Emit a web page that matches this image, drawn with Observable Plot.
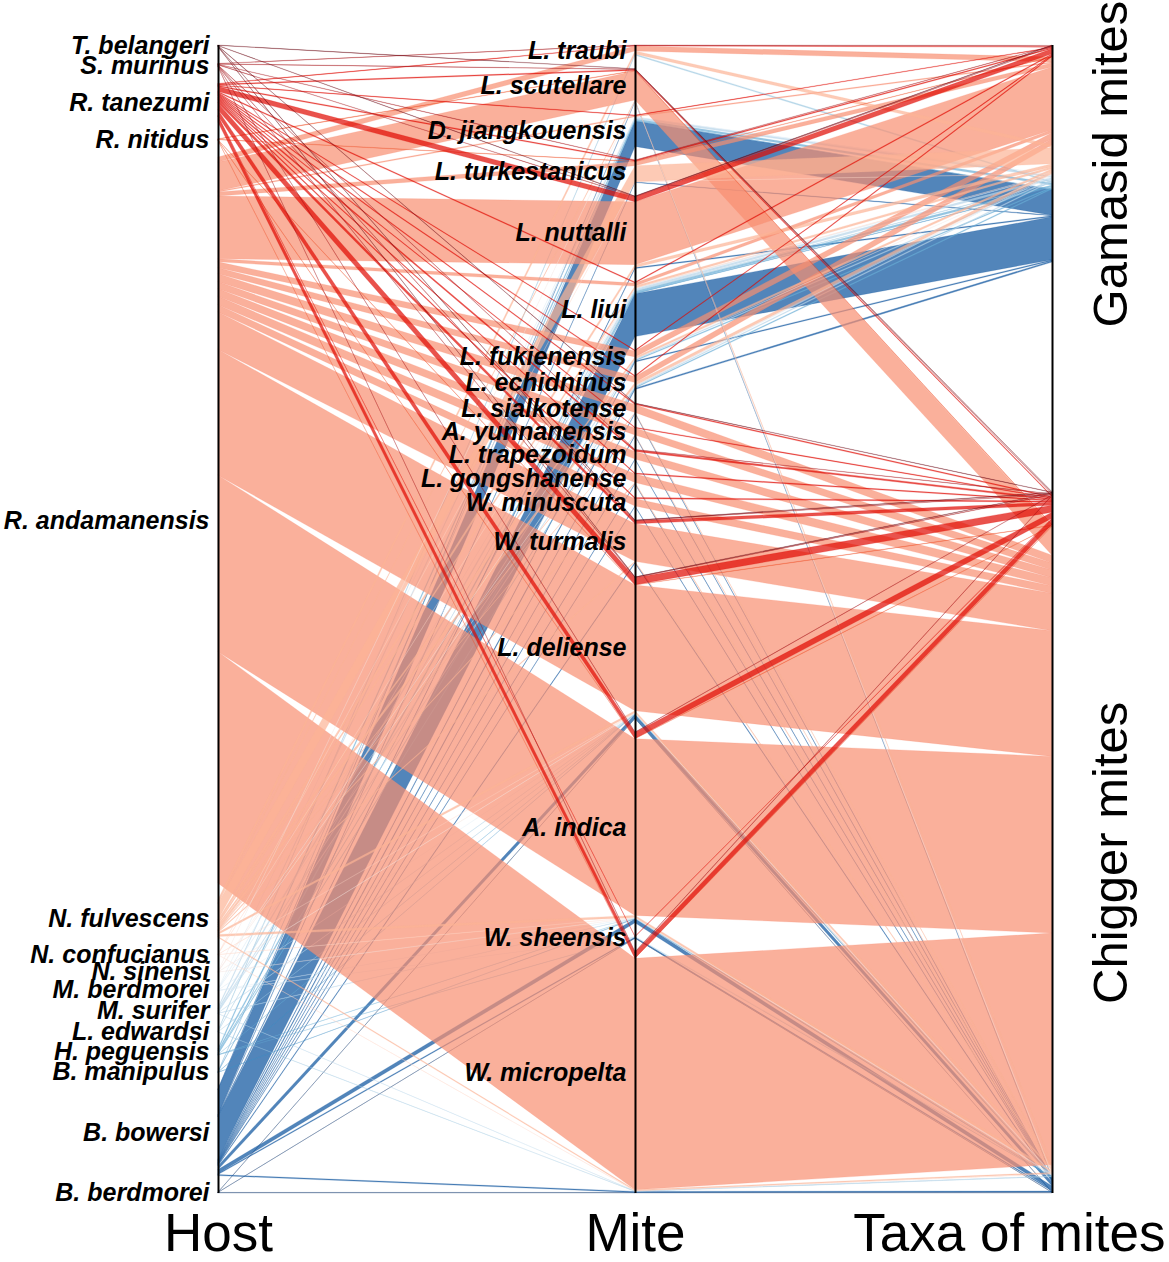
<!DOCTYPE html>
<html><head><meta charset="utf-8">
<script src="https://cdn.jsdelivr.net/npm/d3@7"></script>
<script src="https://cdn.jsdelivr.net/npm/@observablehq/plot@0.6"></script>
<style>body{margin:0;background:#fff} svg{display:block}</style>
</head><body><div id="chart"></div>
<script>
// ---- data ----
const hosts = ["T. belangeri","S. murinus","R. tanezumi","R. nitidus","R. andamanensis","N. fulvescens","N. confucianus","N. sinensi","M. berdmorei","M. surifer","L. edwardsi","H. peguensis","B. manipulus","B. bowersi","B. berdmorei"];
const mites = ["L. traubi","L. scutellare","D. jiangkouensis","L. turkestanicus","L. nuttalli","L. liui","L. fukienensis","L. echidninus","L. sialkotense","A. yunnanensis","L. trapezoidum","L. gongshanense","W. minuscuta","W. turmalis","L. deliense","A. indica","W. sheensis","W. micropelta"];
const miteTaxon = [0,1,0,0,0,0,0,0,1,1,1,1,1,1,1,1,1,1]; // 0 = gamasid, 1 = chigger
const taxa = ["Gamasid mites","Chigger mites"];
const axisTitles = ["Host","Mite","Taxa of mites"];
// rows = hosts, columns = mites (same order as above)
const counts = [
  [0,2,0,0,2,0,0,0,2,0,0,0,0,2,2,0,0,0],
  [2,2,0,2,2,0,0,0,0,0,2,0,0,2,2,2,0,2],
  [3,5,3,5,25,5,4,5,5,4,8,5,6,15,35,30,2,30],
  [0,3,0,2,0,0,0,0,0,0,0,0,0,0,2,2,0,1],
  [25,145,5,20,315,15,30,30,40,35,38,42,36,188,630,885,0,1160],
  [15,5,0,80,15,10,10,15,3,2,0,5,0,5,10,10,0,5],
  [0,0,0,1,0,1,0,0,0,0,0,0,0,0,1,1,0,1],
  [0,1,0,0,0,0,1,1,0,0,0,0,0,0,1,1,0,0],
  [0,0,2,0,0,3,0,2,0,0,0,0,0,0,1,1,1,0],
  [0,0,8,0,0,10,5,5,0,0,0,0,0,0,2,2,0,1],
  [6,0,0,0,0,2,0,0,0,0,0,0,0,0,1,0,0,1],
  [0,0,10,0,0,10,5,5,0,0,0,0,0,0,1,1,1,0],
  [0,0,1,0,0,2,0,0,0,0,0,0,0,0,1,1,0,0],
  [0,2,128,3,5,215,5,7,3,3,3,3,3,5,20,20,5,5],
  [0,0,0,0,0,0,0,0,0,0,0,0,0,0,1,0,1,3]
];
const hostColors = ["#67000d","#a50f15","#e00800","#f0552f","#f88e71","#fcb496","#fdd9c8","#f6e6e0","#deebf7","#b9d6ea","#9ecae1","#6baed6","#4292c6","#08519c","#08306b"];
const drawOrder = [14,13,12,11,10,9,8,4,5,6,7,3,2,1,0];

// ---- layout (parallel sets, each axis spans the same length; spare room split into equal gaps) ----
const nH = hosts.length, nM = mites.length;
const total = d3.sum(counts.flat());
const spread = 1.25;
const D = total * spread;
function stack(sizes) {
  const gap = (D - d3.sum(sizes)) / (sizes.length - 1);
  let p = 0;
  return sizes.map(s => { const st = p; p += s + gap; return st; });
}
const hostTot = counts.map(r => d3.sum(r));
const miteTot = mites.map((m, j) => d3.sum(counts, r => r[j]));
const taxaTot = taxa.map((t, ti) => d3.sum(mites.map((m, j) => miteTaxon[j] === ti ? miteTot[j] : 0)));
const hostStart = stack(hostTot), miteStart = stack(miteTot), taxaStart = stack(taxaTot);

const L = hosts.map(() => []), M = hosts.map(() => []), R = hosts.map(() => []);
for (let h = 0; h < nH; h++) { let p = hostStart[h]; for (let j = 0; j < nM; j++) { L[h][j] = p; p += counts[h][j]; } }
for (let j = 0; j < nM; j++) { let p = miteStart[j]; for (let h = 0; h < nH; h++) { M[h][j] = p; p += counts[h][j]; } }
for (let t = 0; t < taxa.length; t++) {
  let p = taxaStart[t];
  for (let h = 0; h < nH; h++) for (let j = 0; j < nM; j++) if (miteTaxon[j] === t) { R[h][j] = p; p += counts[h][j]; }
}

const ribbons = [];
for (const h of drawOrder) {
  for (let j = 0; j < nM; j++) {
    const c = counts[h][j];
    if (!c) continue;
    const id1 = `a-${h}-${j}`, id2 = `b-${h}-${j}`;
    ribbons.push({id: id1, host: hosts[h], x: 0, y1: L[h][j], y2: L[h][j] + c});
    ribbons.push({id: id1, host: hosts[h], x: 1, y1: M[h][j], y2: M[h][j] + c});
    ribbons.push({id: id2, host: hosts[h], x: 1, y1: M[h][j], y2: M[h][j] + c});
    ribbons.push({id: id2, host: hosts[h], x: 2, y1: R[h][j], y2: R[h][j] + c});
  }
}

const hostLabels = hosts.map((n, h) => ({name: n, y: hostStart[h] + hostTot[h] / 2}));
const miteLabels = mites.map((n, j) => ({name: n, y: miteStart[j] + miteTot[j] / 2}));
const taxaLabels = taxa.map((n, t) => ({name: n, y: taxaStart[t] + taxaTot[t] / 2}));

const font = "'Liberation Sans', Arial, Helvetica, sans-serif";
const labelOpts = {textAnchor: "end", dx: -9, fontSize: 25, fontWeight: "bold", fontStyle: "italic", fill: "black"};

const chart = Plot.plot({
  width: 1169, height: 1262,
  marginTop: 0, marginBottom: 0, marginLeft: 0, marginRight: 0,
  style: {fontFamily: font, background: "white"},
  x: {domain: [0, 2], range: [218, 1052], axis: null},
  y: {domain: [0, D], range: [45, 1193], axis: null},
  color: {type: "ordinal", domain: hosts, range: hostColors},
  marks: [
    Plot.areaY(ribbons, {x: "x", y1: "y1", y2: "y2", z: "id", fill: "host", fillOpacity: 0.7, stroke: "host", strokeOpacity: 0.5, strokeWidth: 0.4, curve: "linear"}),
    Plot.ruleX([0, 1, 2], {y1: 0, y2: D, stroke: "black", strokeWidth: 2}),
    Plot.text(hostLabels, {x: 0, y: "y", text: "name", ...labelOpts}),
    Plot.text(miteLabels, {x: 1, y: "y", text: "name", ...labelOpts}),
    Plot.text(taxaLabels, {x: 2, y: "y", text: "name", rotate: -90, dx: 59, dy: 10, fontSize: 49, textAnchor: "middle", fill: "black"}),
    Plot.text(axisTitles.slice(0, 2), {x: (d, i) => i, text: d => d, frameAnchor: "bottom", dy: -12, fontSize: 53, textAnchor: "middle", fill: "black"}),
    Plot.text(axisTitles.slice(2), {x: 2, text: d => d, frameAnchor: "bottom", dy: -12, dx: 113, fontSize: 53, textAnchor: "end", fill: "black"})
  ]
});
document.getElementById("chart").appendChild(chart);
</script>
</body></html>
